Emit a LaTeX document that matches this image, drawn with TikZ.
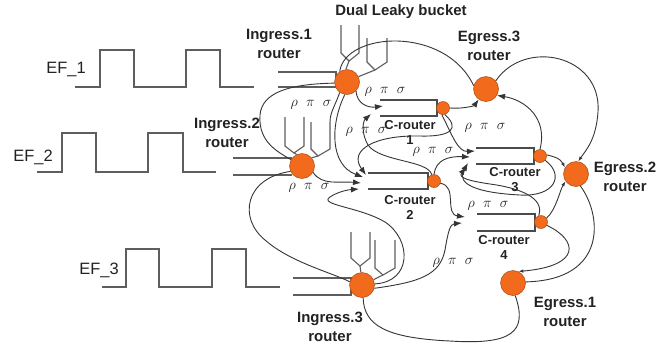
\documentclass[tikz,border=0pt]{standalone}
\usepackage{fontspec}
\setmainfont{Liberation Sans}
\usetikzlibrary{arrows.meta}
\definecolor{orng}{HTML}{F26B1D}
\definecolor{orngd}{HTML}{A8480F}
\definecolor{linec}{HTML}{353535}
\definecolor{wavec}{HTML}{5E5E5E}
\definecolor{txtc}{HTML}{222222}
\begin{document}
\begin{tikzpicture}[x=1bp,y=-1bp,
  big/.style={circle, fill=orng, draw=orngd, line width=0.5bp, minimum size=25bp, inner sep=0pt},
  small/.style={circle, fill=orng, draw=orngd, line width=0.5bp, minimum size=13bp, inner sep=0pt},
  lbl/.style={font=\fontsize{15}{19}\selectfont\bfseries, align=center, text=txtc, inner sep=0pt},
  clbl/.style={font=\fontsize{13}{15}\selectfont\bfseries, align=center, text=txtc, inner sep=0pt},
  eflbl/.style={font=\fontsize{16.5}{18}\selectfont, text=txtc, inner sep=0pt},
  rps/.style={font=\fontsize{15}{16}\selectfont, text=txtc, inner sep=0pt},
  wave/.style={draw=wavec, line width=1.2bp},
  bucket/.style={draw=wavec, line width=1.1bp},
  queue/.style={draw=wavec!80!black, line width=1.4bp},
  conn/.style={draw=linec, line width=0.9bp},
  arr/.style={conn, -{Latex[length=8bp,width=6bp]}},
  sarr/.style={conn, -{Latex[length=5bp,width=3.5bp]}}
]
\useasboundingbox (0,0) rectangle (668,349);
\fill[white] (0,0) rectangle (668,349);

% ---------- square waves ----------
\draw[wave] (75,87)--(100,87)--(100,50)--(134,50)--(134,87)--(186,87)--(186,50)--(220,50)--(220,87)--(254,87);
\draw[wave] (37,172)--(62,172)--(62,133)--(96,133)--(96,172)--(148,172)--(148,133)--(183,133)--(183,172)--(216,172);
\draw[wave] (102,287)--(126,287)--(126,249)--(159,249)--(159,287)--(212,287)--(212,249)--(246,249)--(246,287)--(280,287);
\node[eflbl] (EF1) at (66,69) {EF\_1};
\node[eflbl] (EF2) at (33,157) {EF\_2};
\node[eflbl] (EF3) at (99,270) {EF\_3};

% ---------- input lines ----------
\draw[wave] (278,72)--(336,72)--(336,87)--(278,87);
\draw[wave] (233,158)--(292,158);
\draw[wave] (233,175)--(292,175);
\draw[wave] (293,278)--(351,278)--(351,295)--(293,295);

% ---------- routers ----------
\node[big] (I1) at (347,82) {};
\node[big] (I2) at (302,166) {};
\node[big] (I3) at (362,285) {};
\node[big] (E3) at (486,89) {};
\node[big] (E2) at (576,174) {};
\node[big] (E1) at (513,283) {};

% ---------- dual leaky buckets ----------
\draw[bucket] (341,25)--(341,53)--(349,61)--(359,53)--(359,25);
\draw[bucket] (349,61)--(I1.95);
\draw[bucket] (367,38)--(367,62)--(375,70)--(387,62)--(387,38);
\draw[bucket] (375,70)--(I1.25);
\draw[bucket] (285,117)--(285,146)--(294,153)--(304,146)--(304,117);
\draw[bucket] (294,153)--(I2.115);
\draw[bucket] (311,122)--(311,149)--(318,156)--(330,149)--(330,122);
\draw[bucket] (318,156)--(I2.40);
\draw[bucket] (351,232)--(351,258)--(360,266)--(370,258)--(370,232);
\draw[bucket] (360,266)--(I3.95);
\draw[bucket] (375,240)--(375,268)--(383,275)--(395,268)--(395,240);
\draw[bucket] (383,275)--(I3.25);
\coordinate (B2top) at (330,122);

% ---------- C-routers ----------
\draw[queue] (380,100)--(437,100)--(437,116)--(380,116);
\draw[queue] (368,173)--(428,173)--(428,189)--(368,189);
\draw[queue] (476,148)--(534,148)--(534,164)--(476,164);
\draw[queue] (477,214)--(535,214)--(535,231)--(477,231);
\node[small] (C1c) at (443,108) {};
\node[small] (C2c) at (434,181) {};
\node[small] (C3c) at (540,156) {};
\node[small] (C4c) at (541,222) {};

\coordinate (C1a) at (383,106);
\coordinate (C1b) at (371,114);
\coordinate (C2a) at (363,177);
\coordinate (C2b) at (366,175);
\coordinate (C2i) at (361,183);
\coordinate (C2x) at (359,189);
\coordinate (C3a) at (475,151);
\coordinate (C3b) at (470,157);
\coordinate (C3d) at (468,163);
\coordinate (C3e) at (466,167);
\coordinate (C4a) at (465,217);
\coordinate (C4b) at (462,223);

% ---------- labels ----------
\node[lbl] (DLB) at (401,12) {Dual Leaky bucket};
\node[lbl] (LI1) at (279,44) {Ingress.1\\router};
\node[lbl] (LI2) at (227,133) {Ingress.2\\router};
\node[lbl] (LI3) at (330,327) {Ingress.3\\router};
\node[lbl] (LE3) at (489,46) {Egress.3\\router};
\node[lbl] (LE2) at (625,177) {Egress.2\\router};
\node[lbl] (LE1) at (565,312) {Egress.1\\router};
\node[clbl] (LC1) at (410,132) {C-router\\1};
\node[clbl] (LC2) at (410,207) {C-router\\2};
\node[clbl] (LC3) at (515,180) {C-router\\3};
\node[clbl] (LC4) at (504,247) {C-router\\4};

\node[rps] (R1) at (385,92) {$\rho\ \ \pi\ \ \sigma$};
\node[rps] (R2) at (311,105) {$\rho\ \ \pi\ \ \sigma$};
\node[rps] (R3) at (366,132) {$\rho\ \ \pi\ \ \sigma$};
\node[rps] (R4) at (485,128) {$\rho\ \ \pi\ \ \sigma$};
\node[rps] (R5) at (433,152) {$\rho\ \ \pi\ \ \sigma$};
\node[rps] (R6) at (309,188) {$\rho\ \ \pi\ \ \sigma$};
\node[rps] (R7) at (488,206) {$\rho\ \ \pi\ \ \sigma$};
\node[rps] (R8) at (453,263) {$\rho\ \ \pi\ \ \sigma$};

% ---------- connectors ----------
\draw[arr] (I1.-45) .. controls (357,104) and (368,108) .. (C1a);
\draw[arr] (I1.-100) .. controls (330,125) and (330,165) .. (C2a);
\draw[conn] (I1.185) .. controls (290,84) and (262,92) .. (260,115) .. controls (258,142) and (278,152) .. (I2.150);
\draw[conn] (I1.125) .. controls (345,32) and (445,25) .. (E3.165);
\draw[conn] (I1.-125) .. controls (336,104) and (330,112) .. (B2top);
\draw[arr] (C1c.east) .. controls (462,109) and (474,106) .. (E3.-125);
\draw[sarr] (E3.40) .. controls (525,38) and (602,55) .. (598,112) .. controls (596,140) and (586,150) .. (E2.80);
\draw[arr] (C3c.north) .. controls (548,118) and (525,100) .. (E3.-30);
\draw[arr] (C1c.-100) .. controls (452,135) and (458,152) .. (C3a);
\draw[arr] (C1c.-75) .. controls (460,128) and (452,137) .. (420,136) .. controls (375,135) and (348,150) .. (C2b);
\draw[arr] (C2c.110) .. controls (428,160) and (380,162) .. (368,145) .. controls (362,135) and (362,122) .. (C1b);
\draw[arr] (C2c.north) .. controls (436,160) and (448,156) .. (C3b);
\draw[arr] (C2c.-20) .. controls (458,186) and (444,214) .. (C4a);
\draw[arr] (I3.-15) .. controls (420,282) and (440,275) .. (445,250) .. controls (448,232) and (450,224) .. (C4b);
\draw[arr] (I3.5) .. controls (412,282) and (412,240) .. (385,222) .. controls (360,207) and (318,205) .. (330,197) .. controls (336,193) and (345,190) .. (C2x);
\draw[arr] (I2.-30) .. controls (322,186) and (340,181) .. (C2i);
\draw[conn] (I2.205) .. controls (245,178) and (238,218) .. (265,240) .. controls (290,262) and (330,272) .. (I3.165);
\draw[conn] (I3.-85) .. controls (364,325) and (385,338) .. (450,341) .. controls (512,345) and (528,332) .. (E1.-80);
\draw[sarr] (C4c.-30) .. controls (578,240) and (582,266) .. (E1.65);
\draw[sarr] (C4c.35) .. controls (556,210) and (560,190) .. (E2.-145);
\draw[sarr] (C3c.10) .. controls (555,157) and (560,158) .. (E2.150);
\draw[conn] (E2.-70) .. controls (602,215) and (608,280) .. (E1.5);
\draw[arr] (C3c.-40) .. controls (565,175) and (555,197) .. (520,195) .. controls (480,193) and (455,185) .. (C3d);
\draw[arr] (C4c.110) .. controls (545,198) and (520,188) .. (490,184) .. controls (470,181) and (458,178) .. (C3e);
\end{tikzpicture}
\end{document}
